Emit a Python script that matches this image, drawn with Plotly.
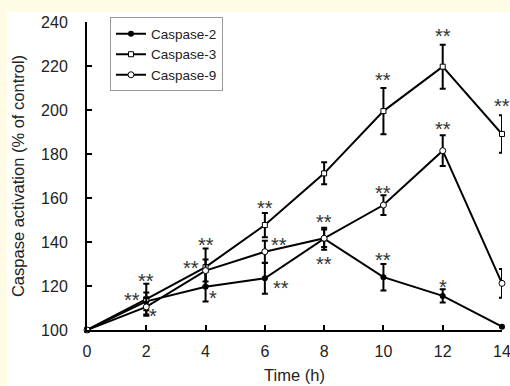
import plotly.graph_objects as go

time_h = [0, 2, 4, 6, 8, 10, 12, 14]
casp2 = [100, 113, 119.7, 123.5, 141.5, 124, 115.5, 101.5]
casp2_err = [0, 4, 6.7, 7, 5, 6, 3, 0]
casp3 = [100, 114, 128.6, 147.7, 171.2, 199.5, 219.7, 189.1]
casp3_err = [0, 7, 8.5, 5.5, 5, 10.5, 10, 8.5]
casp9 = [100, 110.5, 127, 135.6, 141.7, 156.8, 181.5, 121.2]
casp9_err = [0, 4, 5, 5, 4, 4.5, 7, 6.5]

sig_x = [1.98, 1.52, 2.21, 4.01, 3.50, 4.26, 6.0, 6.49, 6.54, 8.0, 8.0,
         9.99, 9.99, 10.0, 12.0, 12.0, 12.0, 13.99, 14.01]
sig_y = [124.2, 115.9, 108.2, 140.9, 130.3, 116.4, 157.3, 140.6, 121.2, 151.2, 132.1,
         215.9, 164.5, 133.8, 235.6, 193.2, 121.5, 203.8, 131.8]
sig_txt = ["**", "**", "*", "**", "**", "*", "**", "**", "**", "**", "**",
           "**", "**", "**", "**", "**", "*", "**", "*"]

FONT = "Liberation Sans, Arial, sans-serif"
fig = go.Figure()

def add(name, y, err, marker):
    fig.add_trace(go.Scatter(
        x=time_h, y=y, name=name, mode="lines+markers",
        line=dict(color="black", width=2),
        marker=marker,
        error_y=dict(type="data", array=err, visible=True, color="black",
                     thickness=2, width=3),
        cliponaxis=False,
    ))

add("Caspase-2", casp2, casp2_err, dict(symbol="circle", size=6, color="black"))
add("Caspase-3", casp3, casp3_err, dict(symbol="square", size=5, color="white",
                                        line=dict(color="black", width=1)))
add("Caspase-9", casp9, casp9_err, dict(symbol="circle", size=6, color="white",
                                        line=dict(color="black", width=1)))

for x, y, t in zip(sig_x, sig_y, sig_txt):
    fig.add_annotation(x=x, y=y, text=t, showarrow=False, yshift=-4.5,
                       font=dict(family=FONT, size=20, color="#333"))

fig.add_shape(type="rect", xref="paper", yref="paper",
              x0=-0.1928, x1=1.05, y0=-0.2, y1=1.0325,
              fillcolor="white", line=dict(width=0), layer="below")

fig.update_layout(
    width=510, height=386,
    margin=dict(l=87, r=8, t=22, b=56, autoexpand=False),
    paper_bgcolor="#fffbe5",
    plot_bgcolor="white",
    font=dict(family=FONT, size=15, color="#222"),
    showlegend=True,
    legend=dict(x=0.0554, y=1.015, xanchor="left", yanchor="top",
                bordercolor="#999", borderwidth=1, bgcolor="white",
                font=dict(size=13.5), tracegroupgap=0, itemwidth=30),
    xaxis=dict(range=[0, 14], tickvals=time_h, ticks="inside", ticklen=5,
               tickwidth=1.5, tickcolor="black", showline=True, linecolor="black",
               linewidth=2, showgrid=False, zeroline=False, automargin=False,
               tickfont=dict(size=16), ticklabelstandoff=6,
               ticklabeloverflow="allow",
               title=dict(text="Time (h)", font=dict(size=16.5), standoff=10)),
    yaxis=dict(range=[100, 240], tickvals=[100, 120, 140, 160, 180, 200, 220, 240],
               ticks="inside", ticklen=5, tickwidth=1.5, tickcolor="black",
               showline=True, linecolor="black", linewidth=2, showgrid=False,
               zeroline=False, automargin=False, tickfont=dict(size=16),
               ticklabelstandoff=14,
               title=dict(text="Caspase activation (% of control)",
                          font=dict(size=16.5), standoff=12)),
)

fig.write_html("out.html", config={"displayModeBar": False},
               post_script="document.body.style.margin='0';"
                           "document.body.style.background='#fffbe5';")
